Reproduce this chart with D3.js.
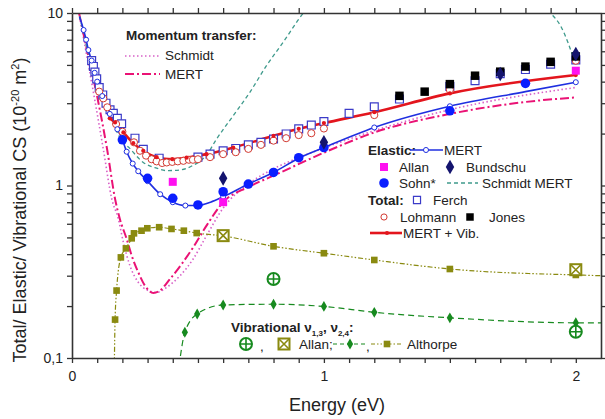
<!DOCTYPE html>
<html>
<head>
<meta charset="utf-8">
<script src="https://cdn.jsdelivr.net/npm/d3@7"></script>
<style>
  html, body { margin: 0; padding: 0; background: #fff; }
  svg { display: block; font-family: "Liberation Sans", Arial, sans-serif; }
</style>
</head>
<body>
<svg id="chart" width="605" height="419"></svg>
<script>
// Elastic / total / vibrational cross sections vs. electron energy

// --- data: [energy eV, CS 1e-20 m^2] ---
const elasticMert = [[0.03,9.5],[0.046,7.97],[0.056,7.0],[0.065,6.1],[0.078,5.3],[0.09,4.5],[0.1,4.0],[0.12,3.3],[0.15,2.6],[0.18,2.12],[0.2,1.84],[0.217,1.57],[0.241,1.34],[0.263,1.21],[0.3,1.06],[0.35,0.89],[0.4,0.80],[0.45,0.765],[0.5,0.765],[0.55,0.80],[0.6,0.86],[0.7,1.02],[0.8,1.19],[0.9,1.44],[1.0,1.66],[1.2,2.17],[1.5,2.88],[1.8,3.5],[2.0,3.97]];
const elasticMertMarks = [0.046,0.056,0.065,0.078,0.09,0.1,0.12,0.15,0.18,0.217,0.241,0.263,0.3,0.35,0.4,0.45,0.6,0.7,0.9,1.2,1.5,2.0];
const sohn = [[0.2,1.84],[0.3,1.10],[0.4,0.843],[0.5,0.771],[0.6,0.92],[0.7,1.02],[0.8,1.19],[0.9,1.45],[1.0,1.66],[1.5,2.71],[1.8,3.91]];
const bundschu = [[0.6,1.10],[1.0,1.78],[1.7,4.43],[2.0,5.78]];
const allanElastic = [[0.4,1.05],[0.6,0.80],[2.0,4.63]];
const schmidtMert = [[0.03,9.6],[0.06,6.2],[0.1,3.9],[0.15,2.55],[0.2,1.8],[0.224,1.67],[0.283,1.36],[0.336,1.26],[0.376,1.22],[0.429,1.23],[0.481,1.31],[0.534,1.5],[0.574,1.86],[0.64,2.54],[0.706,3.47],[0.772,4.95],[0.838,6.76],[0.9,9.2],[0.95,11.5],[1.0,14],[1.2,20],[1.5,22],[1.8,13.5],[1.9,10],[1.94,8.4],[2.0,5.0]];
const momSchmidt = [[0.028,10],[0.06,5.5],[0.091,3.1],[0.125,1.6],[0.158,0.835],[0.184,0.64],[0.204,0.468],[0.23,0.343],[0.263,0.275],[0.303,0.246],[0.336,0.24],[0.376,0.257],[0.429,0.30],[0.481,0.375],[0.534,0.512],[0.6,0.74],[0.7,1.02],[0.8,1.25],[0.9,1.45],[1.0,1.65],[1.2,2.08],[1.5,2.75],[2.0,3.7]];
const momMert = [[0.028,10],[0.065,5.6],[0.102,3.17],[0.14,1.6],[0.171,0.835],[0.19,0.64],[0.217,0.49],[0.237,0.392],[0.263,0.314],[0.29,0.262],[0.323,0.238],[0.349,0.246],[0.389,0.287],[0.435,0.35],[0.481,0.438],[0.534,0.585],[0.6,0.80],[0.7,0.98],[0.8,1.14],[1.0,1.55],[1.2,2.03],[1.5,2.6],[1.8,3.05],[2.0,3.24]];
const ferch = [[0.078,5.3],[0.085,4.9],[0.091,4.55],[0.098,4.15],[0.108,3.7],[0.122,3.35],[0.135,3.0],[0.151,2.75],[0.164,2.62],[0.18,2.45],[0.197,2.28],[0.25,1.88],[0.283,1.62],[0.346,1.44],[0.5,1.46],[0.548,1.52],[0.6,1.59],[0.65,1.64],[0.7,1.72],[0.75,1.78],[0.8,1.86],[0.85,1.99],[0.9,2.13],[0.95,2.24],[1.0,2.35],[1.1,2.62],[1.2,2.86],[1.3,3.17],[1.5,3.75],[1.6,4.05],[1.7,4.45],[1.8,4.7],[1.9,5.05],[2.0,5.35]];
const lohmann = [[0.108,3.5],[0.124,3.2],[0.14,2.84],[0.175,2.27],[0.2,2.05],[0.246,1.78],[0.27,1.59],[0.294,1.49],[0.316,1.42],[0.336,1.38],[0.358,1.35],[0.376,1.36],[0.398,1.37],[0.42,1.38],[0.442,1.39],[0.464,1.41],[0.48,1.41],[0.5,1.42],[0.548,1.46],[0.6,1.52],[0.65,1.56],[0.7,1.63],[0.75,1.72],[0.8,1.82],[0.85,1.88],[0.9,1.96],[0.95,2.01],[1.0,2.14],[1.2,2.56],[1.5,3.59],[2.0,5.29]];
const jones = [[1.3,3.31],[1.4,3.50],[1.5,3.87],[1.6,4.33],[1.7,4.57],[1.8,4.89],[1.9,5.21],[2.0,5.6]];
const mertVib = [[0.15,2.45],[0.171,2.32],[0.204,2.03],[0.243,1.76],[0.283,1.59],[0.336,1.46],[0.398,1.42],[0.455,1.45],[0.534,1.52],[0.64,1.66],[0.8,1.94],[0.9,2.13],[1.0,2.3],[1.2,2.66],[1.5,3.42],[2.0,4.37]];
const althorpe = [[0.171,0.167],[0.177,0.246],[0.194,0.383],[0.214,0.432],[0.237,0.494],[0.246,0.528],[0.276,0.547],[0.299,0.565],[0.346,0.573],[0.395,0.56],[0.444,0.547],[0.495,0.53],[0.6,0.51],[0.8,0.444],[1.0,0.405],[1.2,0.37],[1.5,0.328],[2.0,0.303]];
const althorpeEnds = [[0.168,0.09],[2.1,0.30]];
const vib13 = [[0.448,0.141],[0.497,0.18],[0.6,0.203],[0.8,0.205],[1.0,0.199],[1.2,0.184],[1.5,0.171],[2.0,0.16]];
const vib13Ends = [[0.425,0.09],[2.1,0.16]];
const allanVib13 = [[0.8,0.287],[2.0,0.142]];
const allanVib24 = [[0.6,0.512],[2.0,0.325]];

const xTicks = d3.range(0, 21).map(i => i / 10);
const yTicks = [0.1,0.2,0.3,0.4,0.5,0.6,0.7,0.8,0.9,1,2,3,4,5,6,7,8,9,10];
const yLabels = {0.1: '0,1', 1: '1', 10: '10'};

const C = {
  blue: '#1f2fe0', sohn: '#0a1eff', red: '#e3151d', lohmann: '#d23a32',
  ferch: '#3b3bc8', magenta: '#ff10f0', navy: '#14146e', teal: '#3f9a8c',
  pinkDot: '#d862c8', pinkDash: '#ea1275', olive: '#8a8a10', green: '#178a1f', axis: '#333'
};

const svg = d3.select('#chart');
const x = d3.scaleLinear().domain([0, 2.1]).range([72, 601]);
const y = d3.scaleLog().domain([0.1, 10]).range([358, 13]);

svg.append('defs').append('clipPath').attr('id', 'plot')
  .append('rect').attr('x', 72).attr('y', 13).attr('width', 529).attr('height', 345);

const g = svg.append('g').attr('clip-path', 'url(#plot)');
const line = d3.line().x(d => x(d[0])).y(d => y(d[1])).curve(d3.curveMonotoneX);

function path(data, color, width, dash) {
  g.append('path').datum(data).attr('d', line)
    .attr('fill', 'none').attr('stroke', color).attr('stroke-width', width)
    .attr('stroke-dasharray', dash || null);
}

function marks(data, type, size, fill, stroke, sw) {
  g.selectAll(null).data(data).join('path')
    .attr('transform', d => `translate(${x(d[0])},${y(d[1])})`)
    .attr('d', d3.symbol().type(type).size(size))
    .attr('fill', fill).attr('stroke', stroke || 'none').attr('stroke-width', sw || 1);
}

// lines
path(momSchmidt, C.pinkDot, 1.6, '1.5,2.5');
path(momMert, C.pinkDash, 2, '9,3,2,3');
path(schmidtMert, C.teal, 1.3, '4,3');
path([althorpeEnds[0]].concat(althorpe, [althorpeEnds[1]]), C.olive, 1.2, '5,2,1.5,2,1.5,2');
path([vib13Ends[0]].concat(vib13, [vib13Ends[1]]), C.green, 1.2, '6,4');
path(elasticMert, C.blue, 1.6);
path(mertVib, C.red, 2.6);

// markers
marks(ferch, d3.symbolSquare, 62, '#fff', C.ferch, 1.2);
marks(lohmann, d3.symbolCircle, 40, '#fff', C.lohmann, 1);
marks(jones, d3.symbolSquare, 72, '#000');
marks(althorpe, d3.symbolSquare, 44, C.olive);
marks(vib13, d3.symbolDiamond, 34, C.green);
marks(mertVib, d3.symbolCircle, 14, C.red);
marks(elasticMertMarks.map(e => elasticMert.find(d => d[0] === e)), d3.symbolCircle, 20, '#fff', C.blue, 1);
marks(sohn, d3.symbolCircle, 72, C.sohn);
marks(allanElastic, d3.symbolSquare, 64, C.magenta);
marks(bundschu, d3.symbolDiamond, 62, C.navy);

function crossCircle(sel, cx, cy) {
  sel.append('circle').attr('cx', cx).attr('cy', cy).attr('r', 6)
    .attr('fill', '#fff').attr('stroke', C.green).attr('stroke-width', 2);
  sel.append('path').attr('d', `M${cx - 6},${cy}H${cx + 6}M${cx},${cy - 6}V${cy + 6}`)
    .attr('stroke', C.green).attr('stroke-width', 1.6);
}
function crossSquare(sel, cx, cy) {
  sel.append('rect').attr('x', cx - 5.5).attr('y', cy - 5.5).attr('width', 11).attr('height', 11)
    .attr('fill', '#fff').attr('stroke', C.olive).attr('stroke-width', 2);
  sel.append('path').attr('d', `M${cx - 5},${cy - 5}L${cx + 5},${cy + 5}M${cx + 5},${cy - 5}L${cx - 5},${cy + 5}`)
    .attr('stroke', C.olive).attr('stroke-width', 1.6);
}
allanVib13.forEach(d => crossCircle(g, x(d[0]), y(d[1])));
allanVib24.forEach(d => crossSquare(g, x(d[0]), y(d[1])));

// axes
const fmtX = d => (Math.abs(d - Math.round(d)) < 1e-6 ? d3.format('d')(d) : '');
const fmtY = d => yLabels[d] || '';
const axes = [
  svg.append('g').attr('transform', 'translate(0,358)').call(d3.axisBottom(x).tickValues(xTicks).tickFormat(fmtX).tickSize(5).tickSizeOuter(0)),
  svg.append('g').attr('transform', 'translate(0,13)').call(d3.axisTop(x).tickValues(xTicks).tickFormat('').tickSize(5).tickSizeOuter(0)),
  svg.append('g').attr('transform', 'translate(72,0)').call(d3.axisLeft(y).tickValues(yTicks).tickFormat(fmtY).tickSize(5).tickSizeOuter(0)),
  svg.append('g').attr('transform', 'translate(601,0)').call(d3.axisRight(y).tickValues(yTicks).tickFormat('').tickSize(5).tickSizeOuter(0))
];
axes.forEach(a => {
  a.select('.domain').attr('stroke', C.axis).attr('stroke-width', 1.6);
  a.selectAll('.tick line').attr('stroke', C.axis).attr('stroke-width', 1.3);
  a.selectAll('.tick text').attr('fill', '#222').style('font-size', '14px');
});
axes[0].selectAll('.tick text').attr('dy', '1.1em');
axes[2].selectAll('.tick text').attr('x', -9);

svg.append('text').attr('x', 337).attr('y', 411).attr('text-anchor', 'middle')
  .style('font-size', '18px').attr('fill', '#222').text('Energy (eV)');
const yl = svg.append('text').attr('transform', 'translate(26,210) rotate(-90)')
  .attr('text-anchor', 'middle').style('font-size', '18px').attr('fill', '#222');
yl.append('tspan').text('Total/ Elastic/ Vibrational CS (10');
yl.append('tspan').attr('dy', -7).style('font-size', '11px').text('-20');
yl.append('tspan').attr('dy', 7).text(' m');
yl.append('tspan').attr('dy', -7).style('font-size', '11px').text('2');
yl.append('tspan').attr('dy', 7).text(')');

// legends
const lg = svg.append('g').style('font-size', '13.5px').attr('fill', '#222');
function txt(tx, ty, s, bold) {
  lg.append('text').attr('x', tx).attr('y', ty).attr('dy', '0.35em')
    .style('font-weight', bold ? 'bold' : null).text(s);
}
function sample(x1, x2, yy, color, w, dash) {
  lg.append('line').attr('x1', x1).attr('x2', x2).attr('y1', yy).attr('y2', yy)
    .attr('stroke', color).attr('stroke-width', w).attr('stroke-dasharray', dash || null);
}
function sym(cx, cy, type, size, fill, stroke, sw) {
  lg.append('path').attr('transform', `translate(${cx},${cy})`)
    .attr('d', d3.symbol().type(type).size(size))
    .attr('fill', fill).attr('stroke', stroke || 'none').attr('stroke-width', sw || 1);
}

txt(126, 35, 'Momentum transfer:', true);
sample(125, 160, 56, C.pinkDot, 1.6, '1.5,2.5');
txt(165, 55, 'Schmidt');
sample(125, 160, 74, C.pinkDash, 2, '9,3,2,3');
txt(165, 74, 'MERT');

txt(368, 150, 'Elastic:', true);
sample(410, 443, 150, C.blue, 1.6);
sym(426, 150, d3.symbolCircle, 20, '#fff', C.blue, 1);
txt(444, 150, 'MERT');
sym(384, 167, d3.symbolSquare, 64, C.magenta);
txt(399, 167, 'Allan');
sym(450, 167, d3.symbolDiamond, 62, C.navy);
txt(466, 167, 'Bundschu');
sym(384, 183, d3.symbolCircle, 72, C.sohn);
txt(399, 183, 'Sohn*');
sample(447, 478, 183, C.teal, 1.3, '4,3');
txt(482, 183, 'Schmidt MERT');
txt(368, 200, 'Total:', true);
sym(417, 200, d3.symbolSquare, 50, '#fff', C.ferch, 1.2);
txt(433, 200, 'Ferch');
sym(384, 217, d3.symbolCircle, 30, '#fff', C.lohmann, 1);
txt(400, 217, 'Lohmann');
sym(470, 217, d3.symbolSquare, 56, '#000');
txt(489, 217, 'Jones');
sample(370, 402, 233, C.red, 2.6);
sym(387, 233, d3.symbolCircle, 14, C.red);
txt(403, 233, 'MERT + Vib.');

const vt = lg.append('text').attr('x', 231).attr('y', 327).attr('dy', '0.35em').style('font-weight', 'bold');
vt.append('tspan').text('Vibrational \u03bd');
vt.append('tspan').attr('dy', 4).style('font-size', '8px').text('1,3');
vt.append('tspan').attr('dy', -4).text(', \u03bd');
vt.append('tspan').attr('dy', 4).style('font-size', '8px').text('2,4');
vt.append('tspan').attr('dy', -4).text(':');
crossCircle(lg, 246, 344);
txt(260, 346, ',');
crossSquare(lg, 284, 344);
txt(299, 344, 'Allan;');
sample(333, 365, 344, C.green, 1.2, '4,3');
sym(350, 344, d3.symbolDiamond, 34, C.green);
txt(366, 346, ',');
sample(371, 402, 344, C.olive, 1.2, '4,2,1.5,2,1.5,2');
sym(387, 344, d3.symbolSquare, 44, C.olive);
txt(407, 344, 'Althorpe');
</script>
</body>
</html>
